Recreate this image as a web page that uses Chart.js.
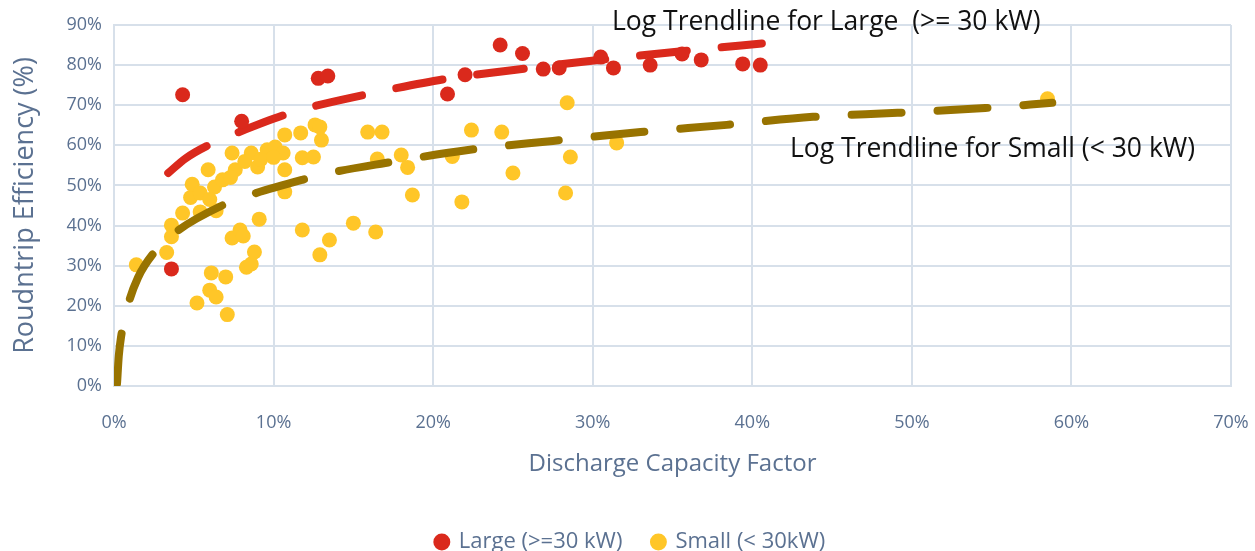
<!DOCTYPE html>
<html lang="en">
<head>
  <meta charset="UTF-8">
  <title>Roundtrip Efficiency vs Discharge Capacity Factor</title>
  <script src="https://cdn.jsdelivr.net/npm/chart.js"></script>
  <style>
    html, body {
      margin: 0;
      padding: 0;
      background: #ffffff;
    }
    #wrap {
      width: 1255px;
      height: 551px;
    }
  </style>
</head>
<body>
  <div id="wrap"><canvas id="effChart"></canvas></div>

  <script>
    // values (percent)
    const largeX = [3.6, 4.3, 8.0, 12.8, 13.4, 20.9, 22.0, 24.2, 25.6, 26.9, 27.9, 30.5, 31.3, 33.6, 35.6, 36.8, 39.4, 40.5];
    const largeY = [29.2, 72.6, 66.0, 76.7, 77.3, 72.8, 77.6, 85.0, 82.9, 79.0, 79.3, 82.0, 79.3, 80.0, 82.8, 81.3, 80.3, 80.0];

    const smallX = [1.4, 3.3, 3.6, 3.6, 4.3, 4.8, 4.9, 5.4, 5.4, 5.9, 6.3, 6.8, 6.4, 6.0, 7.4, 7.6, 7.3, 8.6, 9.0, 9.6,
      10.1, 10.6, 10.7, 10.7, 10.7, 11.7, 11.8, 12.6, 13.0, 12.5, 12.9, 8.2, 9.2, 10.0, 6.1, 7.0, 6.0, 6.4, 5.2, 7.1,
      7.4, 7.9, 8.1, 8.3, 8.8, 8.6, 9.1, 11.8, 12.9, 13.5, 15.0, 16.4, 15.9, 16.8, 16.5, 18.0, 18.4, 18.7, 21.2, 21.8,
      22.4, 24.3, 25.0, 28.4, 28.6, 28.3, 31.5, 58.5];
    const smallY = [30.2, 33.3, 37.2, 40.1, 43.1, 47.0, 50.3, 48.1, 43.4, 53.9, 49.6, 51.4, 43.7, 46.5, 58.1, 53.9, 52.0, 58.1, 54.6, 58.9,
      59.6, 58.1, 62.6, 53.9, 48.4, 63.1, 56.9, 65.1, 61.3, 57.1, 64.6, 56.0, 56.5, 57.0, 28.2, 27.2, 23.9, 22.2, 20.7, 17.8,
      36.9, 38.9, 37.4, 29.6, 33.4, 30.4, 41.6, 38.9, 32.7, 36.4, 40.6, 38.4, 63.3, 63.3, 56.6, 57.6, 54.5, 47.6, 57.2, 45.9,
      63.8, 63.3, 53.1, 70.6, 57.1, 48.1, 60.6, 71.6];

    // trendlines
    const largeTrendX = [3.4, 4.5, 6.2, 7.7, 10.7, 12.4, 15.7, 17.5, 20.9, 26.1, 30.9, 36.7, 40.6];
    const largeTrendY = [53.1, 56.8, 60.6, 63.1, 67.6, 69.6, 72.6, 74.1, 76.6, 79.3, 81.5, 83.9, 85.4];
    const smallTrendX = [0.19, 0.3, 0.44, 0.88, 1.5, 2.44, 3.82, 6.83, 8.52, 11.8, 13.5, 17.0, 22.3, 27.5, 33.0, 38.4, 43.8, 49.1, 54.6, 58.8];
    const smallTrendY = [0.6, 7.5, 12.2, 20.2, 27.0, 32.9, 38.2, 45.1, 47.6, 51.4, 53.1, 55.6, 58.9, 61.1, 63.3, 65.1, 67.1, 68.1, 69.3, 70.6];

    const xTicks = [0, 10, 20, 30, 40, 50, 60, 70];
    const yTicks = [0, 10, 20, 30, 40, 50, 60, 70, 80, 90];

    const toPts = (xs, ys) => xs.map((x, i) => ({ x: x, y: ys[i] }));

    const FONT = "'Open Sans', 'Noto Sans', sans-serif";
    const AXIS_COL = '#5b7191';
    const GRID_COL = '#d7e0ea';

    const notes = {
      id: 'notes',
      beforeUpdate(chart) {
        // keep the legend strip short and nudge it to where the original sits
        const lg = chart.legend;
        if (lg && !lg._short) {
          const fit = lg.fit;
          const draw = lg.draw;
          lg.fit = function () { fit.call(this); this.height = 54; };
          lg.draw = function () {
            const c = this.ctx;
            c.save();
            c.translate(15, 4);
            draw.call(this);
            c.restore();
          };
          lg._short = true;
        }
      },
      afterDraw(chart) {
        const ctx = chart.ctx;
        ctx.save();
        ctx.fillStyle = '#111111';
        ctx.font = "26.5px " + FONT;
        ctx.textBaseline = 'middle';
        ctx.textAlign = 'left';
        ctx.fillText('Log Trendline for Large  (>= 30 kW)', 612, 22);
        ctx.fillText('Log Trendline for Small (< 30 kW)', 790, 149);
        ctx.restore();
      }
    };

    const ctx = document.getElementById('effChart').getContext('2d');
    new Chart(ctx, {
      type: 'scatter',
      data: {
        datasets: [
          {
            label: 'Large (>=30 kW)',
            data: toPts(largeX, largeY),
            backgroundColor: '#da291c',
            borderWidth: 0,
            pointRadius: 7.5,
            order: 0
          },
          {
            label: 'Small (< 30kW)',
            data: toPts(smallX, smallY),
            backgroundColor: '#ffc628',
            borderWidth: 0,
            pointRadius: 7.5,
            order: 3
          },
          {
            label: 'trendLarge',
            type: 'line',
            data: toPts(largeTrendX, largeTrendY),
            borderColor: '#da291c',
            borderWidth: 8,
            borderDash: [47, 35],
            borderCapStyle: 'round',
            cubicInterpolationMode: 'monotone',
            pointRadius: 0,
            fill: false,
            order: 1
          },
          {
            label: 'trendSmall',
            type: 'line',
            data: toPts(smallTrendX, smallTrendY),
            borderColor: '#987300',
            borderWidth: 8,
            borderDash: [50, 36],
            borderCapStyle: 'round',
            cubicInterpolationMode: 'monotone',
            pointRadius: 0,
            fill: false,
            order: 2
          }
        ]
      },
      options: {
        responsive: true,
        maintainAspectRatio: false,
        animation: false,
        layout: { padding: { top: 25, right: 24, left: 0, bottom: 0 } },
        plugins: {
          legend: {
            position: 'bottom',
            labels: {
              filter: item => !item.text.startsWith('trend'),
              usePointStyle: true,
              pointStyle: 'circle',
              boxWidth: 12,
              boxHeight: 12,
              padding: 30,
              color: AXIS_COL,
              font: { family: FONT, size: 22 }
            }
          },
          tooltip: { enabled: false }
        },
        scales: {
          x: {
            type: 'linear',
            min: 0,
            max: 70,
            afterBuildTicks: s => { s.ticks = xTicks.map(v => ({ value: v })); },
            afterFit: s => { s.height = 111; s.paddingRight = 0; s.paddingLeft = 0; },
            ticks: {
              callback: v => v + '%',
              color: AXIS_COL,
              padding: 26,
              font: { family: FONT, size: 18 }
            },
            grid: { color: GRID_COL, lineWidth: 2, drawTicks: false },
            border: { color: GRID_COL, width: 2 },
            title: {
              display: true,
              text: 'Discharge Capacity Factor',
              color: AXIS_COL,
              padding: { top: 4, bottom: 18 },
              font: { family: FONT, size: 24 }
            }
          },
          y: {
            min: 0,
            max: 90,
            afterBuildTicks: s => { s.ticks = yTicks.map(v => ({ value: v })); },
            afterFit: s => { s.width = 114; },
            ticks: {
              callback: v => v + '%',
              color: AXIS_COL,
              padding: 12,
              font: { family: FONT, size: 18 }
            },
            grid: { color: GRID_COL, lineWidth: 2, drawTicks: false },
            border: { color: GRID_COL, width: 2 },
            title: {
              display: true,
              text: 'Roudntrip Efficiency (%)',
              color: AXIS_COL,
              padding: { top: 9, bottom: 4 },
              font: { family: FONT, size: 27 }
            }
          }
        }
      },
      plugins: [notes]
    });
  </script>
</body>
</html>
